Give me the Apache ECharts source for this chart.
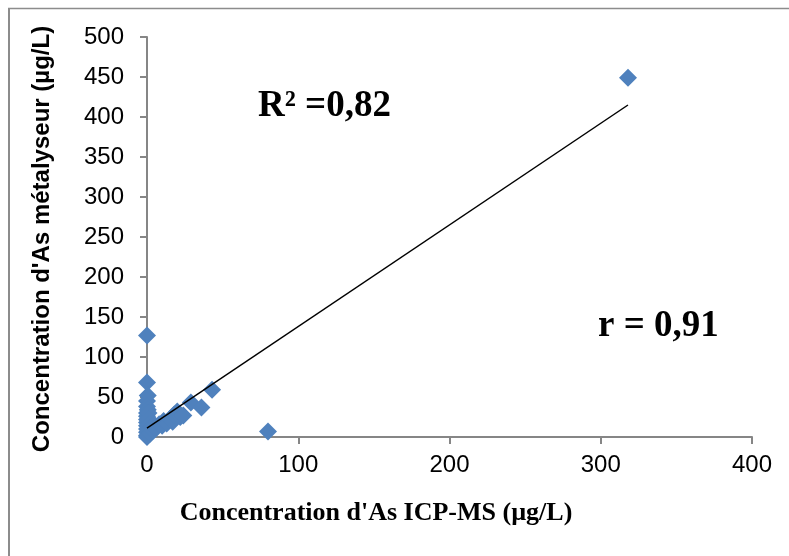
<!DOCTYPE html>
<html>
<head>
<meta charset="utf-8">
<script src="https://cdn.jsdelivr.net/npm/echarts@6/dist/echarts.min.js"></script>
<style>
  html, body { margin: 0; padding: 0; background: #fff; }
  #chart { width: 789px; height: 556px; }
</style>
</head>
<body>
<div id="chart"></div>
<script>
// ICP-MS (x) vs métalyseur (y), µg/L
const icpMs = [0, 0, 0.5, 0, 0, 0.5, 0, 0, 0, 0, 0, 0, 0, 0, 0,
  1, 1, 1.5, 2, 2, 3, 4, 5, 6, 8, 10, 11, 13, 15, 17, 18, 20, 22, 24, 29, 36, 43, 80, 318];
const metalyseur = [127, 68, 52, 45, 38, 34, 30, 26, 22, 18, 14, 10, 6, 2, 0,
  30, 22, 16, 10, 4, 13, 8, 15, 11, 16, 14, 20, 17, 22, 19, 28, 32, 25, 27, 43, 37, 59, 7, 449];
// trend line end points
const trendX = [0, 318];
const trendY = [11, 415];
const xTicks = [0, 100, 200, 300, 400];
const yTicks = [0, 50, 100, 150, 200, 250, 300, 350, 400, 450, 500];

const points = icpMs.map((x, i) => [x, metalyseur[i]]);
const trend = trendX.map((x, i) => [x, trendY[i]]);

const chart = echarts.init(document.getElementById("chart"));
const axisGray = "#868686";
const tickFont = { fontFamily: "Liberation Sans", fontSize: 24, color: "#000" };

chart.setOption({
  animation: false,
  grid: { left: 147, right: 37, top: 37, bottom: 119 },
  xAxis: {
    type: "value",
    min: xTicks[0],
    max: xTicks[xTicks.length - 1],
    interval: xTicks[1] - xTicks[0],
    axisLine: { show: true, lineStyle: { color: axisGray, width: 2 } },
    axisTick: { show: true, length: 7, lineStyle: { color: axisGray, width: 2 } },
    axisLabel: { ...tickFont, margin: 16 },
    splitLine: { show: false }
  },
  yAxis: {
    type: "value",
    min: yTicks[0],
    max: yTicks[yTicks.length - 1],
    interval: yTicks[1] - yTicks[0],
    axisLine: { show: true, lineStyle: { color: axisGray, width: 2 } },
    axisTick: { show: true, length: 7, lineStyle: { color: axisGray, width: 2 } },
    axisLabel: { ...tickFont, margin: 23 },
    splitLine: { show: false }
  },
  series: [
    {
      type: "scatter",
      data: points,
      symbol: "diamond",
      symbolSize: 18,
      clip: false,
      itemStyle: { color: "#4F81BD", opacity: 1 },
      z: 2
    },
    {
      type: "line",
      data: trend,
      showSymbol: false,
      lineStyle: { color: "#000", width: 1.5 },
      z: 3
    }
  ],
  graphic: [
    { type: "line", shape: { x1: 8, y1: 8.5, x2: 789, y2: 8.5 }, style: { stroke: "#8c8c8c", lineWidth: 1.5 } },
    { type: "line", shape: { x1: 9, y1: 8, x2: 9, y2: 556 }, style: { stroke: "#8c8c8c", lineWidth: 2 } },
    {
      type: "text", left: 258, top: 88,
      style: { text: "R² =0,82", font: "bold 37px 'Liberation Serif'", fill: "#000" }
    },
    {
      type: "text", left: 598, top: 308,
      style: { text: "r = 0,91", font: "bold 37px 'Liberation Serif'", fill: "#000" }
    },
    {
      type: "text", x: 376, y: 513,
      style: { text: "Concentration d'As ICP-MS (µg/L)", font: "bold 26px 'Liberation Serif'", fill: "#000",
               align: "center", verticalAlign: "middle" }
    },
    {
      type: "text", x: 42, y: 239, rotation: Math.PI / 2,
      style: { text: "Concentration d'As métalyseur (µg/L)", font: "bold 24px 'Liberation Sans'", fill: "#000",
               align: "center", verticalAlign: "middle" }
    }
  ]
});
</script>
</body>
</html>
